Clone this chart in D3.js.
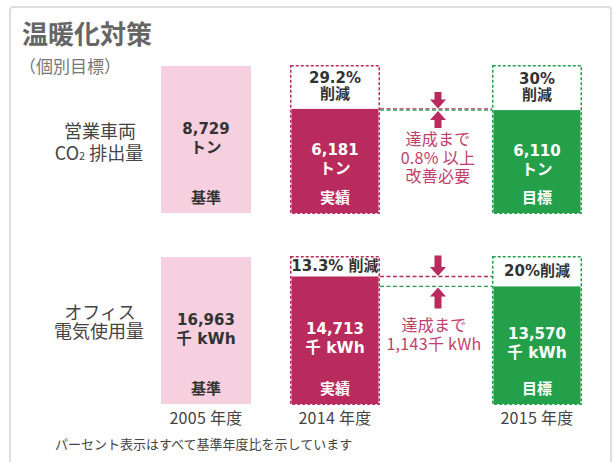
<!DOCTYPE html>
<html>
<head>
<meta charset="utf-8">
<script src="https://cdn.jsdelivr.net/npm/d3@7"></script>
<style>
  body { margin: 0; background: #fff; }
  svg { display: block; font-family: "Noto Sans CJK JP", sans-serif; }
</style>
</head>
<body>
<main></main>
<script>
const years = ['2005 年度', '2014 年度', '2015 年度'];
const statusLabels = ['基準', '実績', '目標'];
const co2Values = [8729, 6181, 6110];
const elecValues = [16963, 14713, 13570];
const units = ['トン', '千 kWh'];
const co2Reduction = [['29.2%', '削減'], ['30%', '削減']];
const elecReduction = [['13.3% 削減'], ['20%削減']];
const co2Gap = ['達成まで', '0.8% 以上', '改善必要'];
const elecGap = ['達成まで', '1,143千  kWh'];

const rows = [
  { values: co2Values, unit: units[0], reduction: co2Reduction, gap: co2Gap, top: 66 },
  { values: elecValues, unit: units[1], reduction: elecReduction, gap: elecGap, top: 257 },
];

const colors = {
  base: '#f6d0de',
  actual: '#b92b5c',
  target: '#25a04a',
  note: '#c23e6e',
  dark: '#333',
};

const dimensions = { width: 614, height: 462, barWidth: 90, barHeight: 147 };
const numFont = '"DejaVu Sans", "Noto Sans CJK JP", sans-serif';

const svg = d3
  .select('main')
  .append('svg')
  .attr('width', dimensions.width)
  .attr('height', dimensions.height);

// frame
svg
  .append('rect')
  .attr('x', 10)
  .attr('y', 7)
  .attr('width', 601)
  .attr('height', 480)
  .attr('rx', 3)
  .attr('fill', 'none')
  .attr('stroke', '#ddd')
  .attr('stroke-width', 2);

svg
  .append('text')
  .attr('x', 22)
  .attr('y', 32)
  .attr('dominant-baseline', 'central')
  .attr('font-size', 26)
  .attr('font-weight', 'bold')
  .attr('fill', '#666')
  .text('温暖化対策');

svg
  .append('text')
  .attr('x', 19)
  .attr('y', 65)
  .attr('dominant-baseline', 'central')
  .attr('font-size', 17)
  .attr('fill', '#777')
  .text('（個別目標）');

const xScale = d3.scaleOrdinal().domain(years).range([161, 290, 492]);
const xCenter = d => xScale(d) + dimensions.barWidth / 2;

// row labels
const labelY = [rows[0].top + 64, rows[1].top + 54];
const labels = svg
  .append('g')
  .attr('fill', '#444')
  .attr('font-size', 18)
  .attr('text-anchor', 'middle');
labels
  .append('text')
  .attr('x', 100)
  .attr('y', labelY[0])
  .attr('dominant-baseline', 'central')
  .text('営業車両');
const co2Label = labels
  .append('text')
  .attr('x', 99)
  .attr('y', labelY[0] + 22)
  .attr('dominant-baseline', 'central');
co2Label.append('tspan').text('CO');
co2Label.append('tspan').attr('font-size', 11).attr('dy', 3).text('2');
co2Label.append('tspan').attr('dy', -3).text(' 排出量');
labels
  .append('text')
  .attr('x', 100)
  .attr('y', labelY[1])
  .attr('dominant-baseline', 'central')
  .text('オフィス');
labels
  .append('text')
  .attr('x', 99)
  .attr('y', labelY[1] + 19)
  .attr('dominant-baseline', 'central')
  .text('電気使用量');

const arrowPath = (x, y0, y1) => {
  const dir = y1 > y0 ? 1 : -1;
  const head = 9;
  const yh = y1 - dir * head;
  return `M${x - 3.5},${y0} L${x + 3.5},${y0} L${x + 3.5},${yh} L${x + 8},${yh} L${x},${y1} L${x - 8},${yh} L${x - 3.5},${yh} Z`;
};

rows.forEach((row, ri) => {
  const bottom = row.top + dimensions.barHeight;
  const yScale = d3
    .scaleLinear()
    .domain([0, row.values[0]])
    .range([bottom, row.top]);

  const g = svg.append('g');
  const fills = [colors.base, colors.actual, colors.target];

  // dashed outline boxes for 2014 / 2015
  [1, 2].forEach(i => {
    g.append('rect')
      .attr('x', xScale(years[i]) + 0.75)
      .attr('y', yScale(row.values[0]) - 0.25)
      .attr('width', dimensions.barWidth - 1.5)
      .attr('height', bottom - yScale(row.values[0]) + 0.5)
      .attr('fill', '#fff')
      .attr('stroke', fills[i])
      .attr('stroke-width', 1.5)
      .attr('stroke-dasharray', '3 2');
  });

  // bars
  g.selectAll('rect.bar')
    .data(row.values)
    .join('rect')
    .attr('class', 'bar')
    .attr('x', (d, i) => xScale(years[i]) + (i ? 1.5 : 0))
    .attr('y', d => yScale(d))
    .attr('width', (d, i) => dimensions.barWidth - (i ? 3 : 0))
    .attr('height', d => bottom - yScale(d))
    .attr('fill', (d, i) => fills[i]);

  // value + unit + status
  row.values.forEach((v, i) => {
    const mid = (yScale(v) + bottom) / 2 - 2;
    const tg = g
      .append('g')
      .attr('text-anchor', 'middle')
      .attr('font-weight', 'bold')
      .attr('fill', i ? '#fff' : colors.dark);
    tg.append('text')
      .attr('x', xCenter(years[i]))
      .attr('y', mid - 9)
      .attr('dominant-baseline', 'central')
      .attr('font-family', numFont)
      .attr('font-size', 15)
      .text(d3.format(',')(v));
    tg.append('text')
      .attr('x', xCenter(years[i]))
      .attr('y', mid + 10)
      .attr('dominant-baseline', 'central')
      .attr('font-family', numFont)
      .attr('font-size', 15.5)
      .text(row.unit);
    tg.append('text')
      .attr('x', xCenter(years[i]))
      .attr('y', bottom - 17)
      .attr('dominant-baseline', 'central')
      .attr('font-size', 15)
      .text(statusLabels[i]);
  });

  // reduction labels in dashed headers
  row.reduction.forEach((lines, k) => {
    const i = k + 1;
    const headTop = yScale(row.values[0]);
    const headBottom = yScale(row.values[i]);
    const mid = (headTop + headBottom) / 2 - 1;
    const start = mid - ((lines.length - 1) * 16) / 2;
    lines.forEach((t, li) => {
      g.append('text')
        .attr('x', xCenter(years[i]))
        .attr('y', start + li * 16)
        .attr('dominant-baseline', 'central')
        .attr('text-anchor', 'middle')
        .attr('font-family', numFont)
        .attr('font-weight', 'bold')
        .attr('font-size', 15)
        .attr('fill', colors.dark)
        .text(t);
    });
  });

  // connecting dashed lines
  const x0 = xScale(years[1]) + dimensions.barWidth;
  const x1 = xScale(years[2]);
  [[1, colors.actual], [2, colors.target]].forEach(([i, c]) => {
    g.append('line')
      .attr('x1', x0)
      .attr('x2', x1)
      .attr('y1', yScale(row.values[i]))
      .attr('y2', yScale(row.values[i]))
      .attr('stroke', c)
      .attr('stroke-width', 1.3)
      .attr('stroke-dasharray', '4 2.5');
  });

  // arrows
  const ax = 438;
  const yA = yScale(row.values[1]);
  const yT = yScale(row.values[2]);
  g.append('path')
    .attr('d', arrowPath(ax, yA - (ri ? 21 : 17), yA - 0.5))
    .attr('fill', colors.actual);
  g.append('path')
    .attr('d', arrowPath(ax, yT + (ri ? 22 : 18), yT + 1))
    .attr('fill', colors.actual);

  // gap note
  const noteY = yT + (ri ? 38 : 28);
  row.gap.forEach((t, li) => {
    g.append('text')
      .attr('x', ri ? 434 : 438)
      .attr('y', noteY + li * 18.5)
      .attr('dominant-baseline', 'central')
      .attr('text-anchor', 'middle')
      .attr('font-size', 16)
      .attr('letter-spacing', 0.3)
      .attr('fill', colors.note)
      .text(t);
  });
});

// year labels
svg
  .append('g')
  .selectAll('text')
  .data(years)
  .join('text')
  .attr('x', d => xCenter(d))
  .attr('y', 417)
  .attr('dominant-baseline', 'central')
  .attr('text-anchor', 'middle')
  .attr('font-size', 16)
  .attr('letter-spacing', 0.3)
  .attr('fill', '#444')
  .text(d => d);

svg
  .append('text')
  .attr('x', 55)
  .attr('y', 443)
  .attr('dominant-baseline', 'central')
  .attr('font-size', 13)
  .attr('fill', '#444')
  .text('パーセント表示はすべて基準年度比を示しています');
</script>
</body>
</html>
